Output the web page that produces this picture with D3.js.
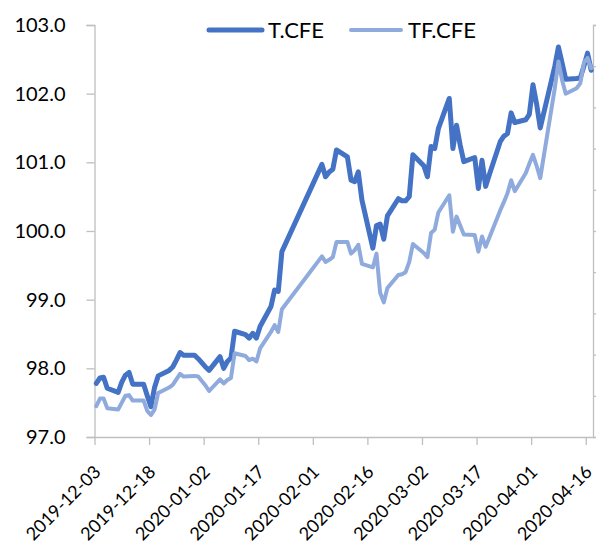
<!DOCTYPE html>
<html><head><meta charset="utf-8">
<script src="https://cdn.jsdelivr.net/npm/d3@7"></script>
<style>html,body{margin:0;padding:0;background:#fff;}svg{display:block;}</style>
</head><body><svg id="c" width="596" height="550"></svg>
<script>
const dates = ["2019-12-03","2019-12-04","2019-12-05","2019-12-06","2019-12-09","2019-12-10","2019-12-11","2019-12-12","2019-12-13","2019-12-16","2019-12-17","2019-12-18","2019-12-19","2019-12-20","2019-12-23","2019-12-24","2019-12-25","2019-12-26","2019-12-27","2019-12-30","2019-12-31","2020-01-02","2020-01-03","2020-01-06","2020-01-07","2020-01-08","2020-01-09","2020-01-10","2020-01-13","2020-01-14","2020-01-15","2020-01-16","2020-01-17","2020-01-20","2020-01-21","2020-01-22","2020-01-23","2020-02-03","2020-02-04","2020-02-05","2020-02-06","2020-02-07","2020-02-10","2020-02-11","2020-02-12","2020-02-13","2020-02-14","2020-02-17","2020-02-18","2020-02-19","2020-02-20","2020-02-21","2020-02-24","2020-02-25","2020-02-26","2020-02-27","2020-02-28","2020-03-02","2020-03-03","2020-03-04","2020-03-05","2020-03-06","2020-03-09","2020-03-10","2020-03-11","2020-03-12","2020-03-13","2020-03-16","2020-03-17","2020-03-18","2020-03-19","2020-03-20","2020-03-23","2020-03-24","2020-03-25","2020-03-26","2020-03-27","2020-03-30","2020-03-31","2020-04-01","2020-04-02","2020-04-03","2020-04-07","2020-04-08","2020-04-09","2020-04-10","2020-04-13","2020-04-14","2020-04-15","2020-04-16","2020-04-17"];
const tCFE = [97.78,97.86,97.87,97.71,97.65,97.80,97.90,97.94,97.77,97.77,97.60,97.44,97.72,97.89,97.97,98.02,98.12,98.23,98.19,98.19,98.14,98.02,97.97,98.17,98.00,98.10,98.15,98.54,98.49,98.44,98.51,98.44,98.61,98.90,99.14,99.12,99.70,100.97,100.79,100.86,100.90,101.18,101.08,100.74,100.72,100.86,100.45,99.75,100.08,100.10,99.88,100.22,100.47,100.44,100.44,100.50,101.11,100.95,100.79,101.23,101.20,101.49,101.93,101.20,101.54,101.25,101.01,101.07,100.62,101.03,100.65,100.82,101.30,101.38,101.42,101.72,101.58,101.62,101.70,102.13,101.85,101.50,102.40,102.68,102.45,102.21,102.22,102.23,102.40,102.59,102.34];
const tfCFE = [97.45,97.56,97.56,97.42,97.40,97.50,97.60,97.61,97.53,97.53,97.38,97.32,97.40,97.64,97.72,97.76,97.84,97.92,97.88,97.89,97.88,97.75,97.67,97.84,97.78,97.83,97.86,98.22,98.18,98.12,98.14,98.10,98.29,98.53,98.63,98.53,98.86,99.63,99.55,99.58,99.62,99.84,99.84,99.67,99.72,99.80,99.52,99.47,99.67,99.10,98.96,99.17,99.36,99.37,99.40,99.55,99.81,99.68,99.62,99.97,100.02,100.27,100.52,99.99,100.21,100.08,99.95,99.94,99.70,99.92,99.77,99.90,100.30,100.42,100.55,100.74,100.58,100.84,100.98,101.11,100.95,100.77,102.08,102.47,102.20,102.00,102.08,102.15,102.45,102.52,102.37];
const xTickLabels = ["2019-12-03","2019-12-18","2020-01-02","2020-01-17","2020-02-01","2020-02-16","2020-03-02","2020-03-17","2020-04-01","2020-04-16"];
const yTicks = [97,98,99,100,101,102,103];
const seriesNames = ["T.CFE","TF.CFE"];
const seriesColors = ["#4472C4","#8FAADC"];

const parse = d3.timeParse("%Y-%m-%d");
const svg = d3.select("#c");
const L = 94.5, R = 593, T = 25, B = 437;
const axisColor = "#BFBFBF";
const font = "Lato, 'Open Sans', sans-serif";

const x = d3.scaleTime().domain([parse("2019-12-03"), parse("2020-04-18")]).range([L, R]);
const y = d3.scaleLinear().domain([97,103]).range([B, T]);
const mid = d => d3.timeHour.offset(parse(d), 12);

// y axis
const gy = svg.append("g").attr("transform",`translate(${L},0)`)
  .call(d3.axisLeft(y).tickValues(yTicks).tickFormat(d3.format(".1f")).tickSize(8).tickPadding(21));
gy.selectAll("path,line").attr("stroke",axisColor).attr("stroke-width",1.3);
gy.selectAll("text").attr("font-family",font).attr("font-size",20).attr("fill","#000");

// right secondary axis (no labels)
const y2 = d3.scaleLinear().domain([0,10]).range([B,T]);
const gr = svg.append("g").attr("transform",`translate(${R},0)`)
  .call(d3.axisRight(y2).ticks(10).tickFormat("").tickSize(6));
gr.selectAll("path,line").attr("stroke",axisColor).attr("stroke-width",1.3);

// x axis
const gx = svg.append("g").attr("transform",`translate(0,${B})`)
  .call(d3.axisBottom(x).tickValues(xTickLabels.map(parse)).tickFormat(d3.timeFormat("%Y-%m-%d")).tickSize(8).tickSizeOuter(0));
gx.selectAll("path,line").attr("stroke",axisColor).attr("stroke-width",1.3);
gx.selectAll("text").attr("font-family",font).attr("font-size",18).attr("fill","#000")
  .attr("text-anchor","end").attr("dy",0).attr("y",0)
  .attr("transform","translate(7,36) rotate(-45)");

// lines
const line = vals => d3.line().x((d,i)=>x(mid(dates[i]))).y(d=>y(d))(vals);
[tCFE, tfCFE].forEach((vals,k)=>{
  svg.append("path").attr("d",line(vals)).attr("fill","none")
    .attr("stroke",seriesColors[k]).attr("stroke-width",k===0?5:4)
    .attr("stroke-linejoin","round").attr("stroke-linecap","round");
});

// legend
const leg = [{x1:209,x2:262,tx:268},{x1:351,x2:401,tx:408}];
leg.forEach((p,k)=>{
  svg.append("line").attr("x1",p.x1).attr("x2",p.x2).attr("y1",30).attr("y2",30)
    .attr("stroke",seriesColors[k]).attr("stroke-width",k===0?5:4).attr("stroke-linecap","round");
  svg.append("text").attr("x",p.tx).attr("y",38).attr("font-family",font).attr("font-size",22)
    .attr("fill","#000").text(seriesNames[k]);
});
</script></body></html>
